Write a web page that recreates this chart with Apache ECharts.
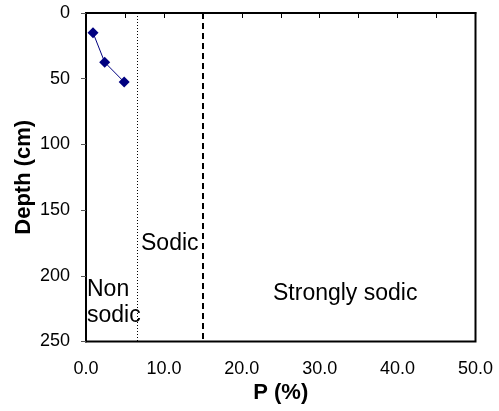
<!DOCTYPE html>
<html><head><meta charset="utf-8">
<script src="https://cdn.jsdelivr.net/npm/echarts@6/dist/echarts.min.js"></script>
<style>html,body{margin:0;padding:0;background:#fff}#c{width:499px;height:411px}</style>
</head><body><div id="c"></div>
<script>
const pValues = [0.9, 2.4, 4.9];
const depths = [15, 37.5, 52.5];
const thresholds = [6.6, 15];
const xTickLabels = ['0.0','10.0','20.0','30.0','40.0','50.0'];
const yTicks = [0, 50, 100, 150, 200, 250];

const chart = echarts.init(document.getElementById('c'));
const F = 'Liberation Sans, Arial, sans-serif';
chart.setOption({
  animation: false,
  grid: {left: 86, top: 13, right: 23.5, bottom: 69.5, show: true, borderColor: '#000', borderWidth: 2, backgroundColor: 'transparent'},
  xAxis: {
    type: 'value', min: 0, max: 50, interval: 5,
    name: 'P (%)', nameLocation: 'middle', nameGap: 40, nameMoveOverlap: false,
    nameTextStyle: {fontFamily: F, fontSize: 22, fontWeight: 'bold', color: '#000'},
    axisLine: {show: true, lineStyle: {color: '#000', width: 2}},
    axisTick: {show: true, inside: false, length: 5, lineStyle: {color: '#000'}},
    axisLabel: {fontFamily: F, fontSize: 18, color: '#000', margin: 19,
      formatter: v => (v % 10 === 0 ? xTickLabels[v/10] : '')},
    splitLine: {show: false}
  },
  yAxis: {
    type: 'value', min: 0, max: 250, interval: 50, inverse: true,
    name: 'Depth (cm)', nameLocation: 'middle', nameGap: 51, nameRotate: 90, nameMoveOverlap: false,
    nameTextStyle: {fontFamily: F, fontSize: 22, fontWeight: 'bold', color: '#000'},
    axisLine: {show: true, lineStyle: {color: '#000', width: 2}},
    axisTick: {show: true, inside: false, length: 5, lineStyle: {color: '#555'}},
    axisLabel: {fontFamily: F, fontSize: 18, color: '#000', margin: 16,
      formatter: v => String(yTicks[yTicks.indexOf(v)])},
    splitLine: {show: false}
  },
  series: [{
    type: 'line',
    data: pValues.map((p, i) => [p, depths[i]]),
    symbol: 'diamond', symbolSize: 11,
    lineStyle: {color: '#000080', width: 1},
    itemStyle: {color: '#000080'},
    markLine: {
      symbol: 'none', silent: true, label: {show: false},
      data: [
        {xAxis: thresholds[0], lineStyle: {color: '#000', type: [1, 2], width: 1}},
        {xAxis: thresholds[1], lineStyle: {color: '#000', type: [6, 4], width: 2}}
      ]
    }
  }],
  graphic: [
    {type: 'text', left: 141, top: 232, style: {text: 'Sodic', font: '23px ' + F, fill: '#000'}},
    {type: 'text', left: 87, top: 277, style: {text: 'Non\nsodic', font: '23px ' + F, fill: '#000', lineHeight: 26}},
    {type: 'text', left: 273, top: 282, style: {text: 'Strongly sodic', font: '23px ' + F, fill: '#000'}}
  ]
});
</script></body></html>
